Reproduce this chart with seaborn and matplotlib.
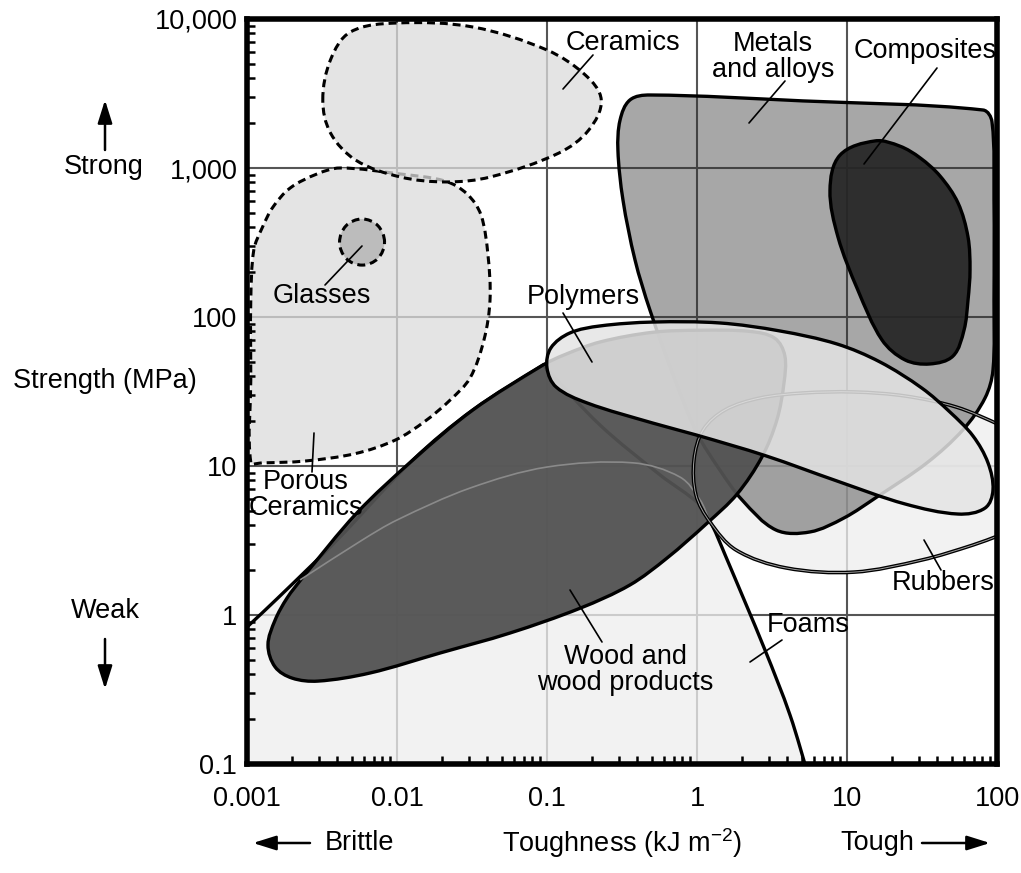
import numpy as np
import matplotlib
matplotlib.use("Agg")
import matplotlib.pyplot as plt
import seaborn as sns
from matplotlib.path import Path
from matplotlib.patches import PathPatch
from matplotlib.colors import to_rgba
from matplotlib.ticker import FixedLocator, FixedFormatter, LogLocator, NullFormatter

# %% axis values

x_ticks = [0.001, 0.01, 0.1, 1, 10, 100]
x_labels = ['0.001', '0.01', '0.1', '1', '10', '100']
y_ticks = [0.1, 1, 10, 100, 1000, 10000]
y_labels = ['0.1', '1', '10', '100', '1,000', '10,000']

# %% outlines: toughness (kJ m-2) and strength (MPa)
# a point listed twice is a sharp corner

ceramics_t = [0.0032, 0.0036, 0.0049, 0.010, 0.032, 0.10, 0.18, 0.23, 0.19, 0.12, 0.042, 0.0215, 0.0105, 0.0053, 0.0036]
ceramics_s = [2860, 5310, 8190, 9400, 8840, 6190, 4210, 2860, 1800, 1260, 871, 806, 871, 1130, 1720]

porous_t = [0.00106, 0.00106, 0.00106, 0.00111, 0.00126, 0.00149, 0.00194, 0.00293, 0.00417, 0.0105, 0.0209, 0.0293,
            0.0363, 0.0404, 0.0417, 0.038, 0.0307, 0.0226, 0.0154, 0.0097, 0.00525, 0.00244, 0.00126]
porous_s = [10.6, 37.8, 130, 282, 395, 547, 734, 912, 1000, 912, 818, 670,
            484, 261, 130, 70.2, 39, 27.7, 20, 14.9, 12.1, 10.8, 10.5]

glasses_t = [0.00826, 0.00746, 0.00585, 0.00458, 0.00414, 0.00458, 0.00585, 0.00746]
glasses_s = [318, 410, 455, 410, 318, 247, 223, 247]

metals_t = [0.307, 0.357, 0.486, 5.09, 80.7, 92.6, 95.5, 95.5, 94, 83.2, 59.3, 34.1,
            15.8, 9.55, 5.67, 3.36, 2.0, 1.42, 1.0, 0.714, 0.486, 0.386, 0.321, 0.297]
metals_s = [2100, 2860, 3090, 2820, 2450, 2040, 610, 130, 44, 28.6, 17.5, 10.5,
            6.19, 4.48, 3.61, 3.72, 5.91, 9.4, 16.6, 37.8, 111, 242, 610, 1320]

composites_t = [15.4, 22.6, 30.7, 41.7, 55, 64.1, 66.1, 64.1, 60.3, 50.9, 35.7, 24.4, 17.1, 11.8, 8.71, 7.7, 8.98]
composites_s = [1520, 1400, 1170, 884, 582, 344, 207, 130, 81.8, 54.7, 48.4, 51.5, 70.2, 152, 344, 711, 1220]

wood_t = [0.00233, 0.00233, 0.00185, 0.00154, 0.00138, 0.00154, 0.0020, 0.00297, 0.0066, 0.0194, 0.0567, 0.166,
          0.357, 0.631, 1.17, 1.85, 2.71, 3.41, 3.80, 3.85, 3.30, 2.26, 1.05, 0.509, 0.226, 0.132,
          0.094, 0.0321, 0.0128, 0.0054]
wood_s = [1.77, 1.77, 1.30, 0.925, 0.629, 0.448, 0.377, 0.36, 0.408, 0.556, 0.757, 1.11,
          1.59, 2.41, 4.14, 6.48, 11.5, 20.4, 36.0, 55.0, 72.0, 80.0, 81.5, 79.0, 68.0, 56.0,
          47.6, 23.8, 11.0, 4.84]

wood_inner_t = [0.00226, 0.00585, 0.010, 0.0307, 0.10, 0.374, 0.77, 1.05, 1.22]
wood_inner_s = [1.72, 3.18, 4.34, 7.11, 9.84, 10.5, 8.43, 5.91, 4.21]

foams_t = [0.00062, 0.001, 0.00158, 0.00398, 0.0128, 0.0321, 0.094, 0.094, 0.226, 0.567, 1.05, 1.26,
           1.54, 2.84, 4.17, 5.67, 7.5, 7.5, 0.00062, 0.00062]
foams_s = [0.53, 0.83, 1.28, 3.18, 11.0, 23.8, 47.6, 47.6, 18.8, 8.71, 5.47, 4.02,
           2.53, 0.582, 0.213, 0.078, 0.036, 0.036, 0.036, 0.036]

polymers_t = [0.1, 0.106, 0.142, 0.226, 0.509, 1.42, 3.57, 8.58, 16.6, 31.6, 48.6, 69.2,
              87.1, 94, 83.2, 55, 24.4, 8.58, 2.88, 1.0, 0.509, 0.185, 0.115]
polymers_s = [45.5, 61.9, 78.1, 87.1, 92.5, 91.2, 80.6, 65.9, 49.9, 33.3, 23, 15.9,
              10.5, 6.9, 5.22, 4.76, 5.56, 7.93, 11.7, 16.1, 19.4, 26.5, 33.9]

rubbers_t = [194, 105, 53.3, 24.4, 11.1, 5.09, 2.63, 1.54, 1.1, 0.955, 0.985, 1.22,
             1.82, 3.92, 11.1, 31.6, 69.2, 105, 194]
rubbers_s = [13.8, 18.8, 24.9, 29.5, 31.4, 30.9, 28.6, 23.8, 17.5, 11.0, 6.38, 4.21,
             2.73, 2.07, 1.94, 2.34, 2.95, 3.44, 4.34]


def outline(t, s, closed=True):
    # smooth outline through the points, built in log space as cubic bezier segments
    p = np.column_stack([np.log10(t), np.log10(s)])
    n = len(p)

    def unit(v):
        length = np.hypot(*v)
        return v / length if length > 0 else v * 0

    verts, codes = [p[0]], [Path.MOVETO]
    for i in range(n if closed else n - 1):
        a = p[i - 1] if (closed or i > 0) else p[i]
        b, c = p[i], p[(i + 1) % n]
        d = p[(i + 2) % n] if (closed or i + 2 < n) else c
        seg = np.hypot(*(c - b))
        verts += [b + unit(c - a) * seg / 3, c - unit(d - b) * seg / 3, c]
        codes += [Path.CURVE4] * 3
    if closed:
        verts.append(p[0])
        codes.append(Path.CLOSEPOLY)
    return Path(10 ** np.array(verts), codes)


W, H = 1021, 873


def fxy(px, py):
    return (px / W, 1 - py / H)


sns.set_theme(style='white')
plt.rcParams['font.family'] = ['Liberation Sans', 'DejaVu Sans']
plt.rcParams['text.color'] = 'black'
plt.rcParams['mathtext.fontset'] = 'custom'
plt.rcParams['mathtext.rm'] = 'Liberation Sans'
plt.rcParams['mathtext.default'] = 'rm'

fig = plt.figure(figsize=(W / 100, H / 100), dpi=100)
ax = fig.add_axes([247 / W, 1 - 764 / H, 750 / W, 745 / H])
ax.set_xscale('log')
ax.set_yscale('log')
ax.set_xlim(x_ticks[0], x_ticks[-1])
ax.set_ylim(y_ticks[0], y_ticks[-1])

for v in x_ticks[1:-1]:
    ax.axvline(v, color='#555555', lw=1.5, zorder=0.5)
for v in y_ticks[1:-1]:
    ax.axhline(v, color='#555555', lw=1.5, zorder=0.5)

dashed = (0, (2.6, 1.6))


def blob(t, s, fc, alpha, z, ls='-', lw=2.4, ec='black'):
    ax.add_patch(PathPatch(outline(t, s), facecolor=to_rgba(fc, alpha), edgecolor=ec,
                           lw=lw, linestyle=ls, zorder=z))


blob(foams_t, foams_s, '#efefef', 0.77, 1.0)
ax.add_patch(PathPatch(outline(rubbers_t, rubbers_s), facecolor=to_rgba('#efefef', 0.77),
                       edgecolor='none', zorder=1.2))
blob(porous_t, porous_s, '#dcdcdc', 0.76, 1.5, ls=dashed, lw=2.2)
blob(ceramics_t, ceramics_s, '#dcdcdc', 0.76, 1.6, ls=dashed, lw=2.2)
blob(glasses_t, glasses_s, '#b8b8b8', 0.9, 1.7, ls=dashed, lw=2.2)
blob(metals_t, metals_s, '#2b2b2b', 0.41, 2.0)
blob(composites_t, composites_s, '#252525', 0.93, 2.2)
blob(wood_t, wood_s, '#525252', 0.95, 3.0)
ax.add_patch(PathPatch(outline(wood_inner_t, wood_inner_s, closed=False), fill=False,
                       edgecolor='#8a8a8a', lw=1.2, zorder=3.1))
ax.add_patch(PathPatch(outline(rubbers_t, rubbers_s), fill=False, edgecolor='black', lw=2.6, zorder=3.5))
ax.add_patch(PathPatch(outline(rubbers_t, rubbers_s), fill=False, edgecolor='#a0a0a0', lw=0.7, zorder=3.6))
blob(polymers_t, polymers_s, '#e4e4e4', 0.85, 4.0)

# axes, ticks
ax.set_axisbelow(False)
ax.xaxis.set_major_locator(FixedLocator(x_ticks))
ax.xaxis.set_major_formatter(FixedFormatter(x_labels))
ax.yaxis.set_major_locator(FixedLocator(y_ticks))
ax.yaxis.set_major_formatter(FixedFormatter(y_labels))
ax.xaxis.set_minor_locator(LogLocator(base=10, subs=np.arange(2, 10), numticks=20))
ax.yaxis.set_minor_locator(LogLocator(base=10, subs=np.arange(2, 10), numticks=20))
ax.xaxis.set_minor_formatter(NullFormatter())
ax.yaxis.set_minor_formatter(NullFormatter())
ax.tick_params(which='major', length=0, labelsize=19.5, colors='black')
ax.tick_params(axis='x', which='major', pad=16)
ax.tick_params(axis='y', which='major', pad=7)
ax.tick_params(which='minor', direction='in', length=6, width=1.8, color='black',
               left=True, bottom=True, top=False, right=False)
for sp in ax.spines.values():
    sp.set_linewidth(4)
    sp.set_color('black')
    sp.set_zorder(10)
ax.xaxis.set_zorder(11)
ax.yaxis.set_zorder(11)

fs = 19.5


def label(text, px, py, **kw):
    ax.annotate(text, xy=fxy(px, py), xycoords='figure fraction', ha='center', va='center',
                fontsize=fs, color='black', zorder=30, linespacing=1.0, **kw)


def leader(p0, p1, lw=1.2):
    ax.annotate('', xy=fxy(*p1), xytext=fxy(*p0), xycoords='figure fraction', textcoords='figure fraction',
                arrowprops=dict(arrowstyle='-', lw=lw, color='black', shrinkA=0, shrinkB=0), zorder=30)


def arrow(p0, p1):
    ax.annotate('', xy=fxy(*p1), xytext=fxy(*p0), xycoords='figure fraction', textcoords='figure fraction',
                arrowprops=dict(arrowstyle='-|>,head_length=0.7,head_width=0.22', lw=1.8, color='black',
                                shrinkA=0, shrinkB=0, mutation_scale=20), zorder=30)


# material labels
label('Ceramics', 623, 43)
leader((593, 55), (563, 89))
label('Metals\nand alloys', 773, 57)
leader((785, 81), (749, 123))
label('Composites', 925, 51)
leader((937, 68), (864, 164))
label('Glasses', 322, 296)
leader((325, 285), (362, 246))
label('Porous\nCeramics', 306, 495)
leader((314, 433), (312, 472))
label('Polymers', 583, 297)
leader((563, 313), (592, 362))
label('Rubbers', 943, 583)
leader((924, 540), (941, 570))
label('Foams', 808, 625)
leader((782, 640), (750, 662))
label('Wood and\nwood products', 625, 670)
leader((570, 590), (602, 642))

# axis titles
label('Strength (MPa)', 105, 381)
label('Strong', 104, 167)
arrow((105, 150), (105, 100))
label('Weak', 105, 611)
arrow((105, 639), (105, 689))
label('Toughness (kJ m$^{-2}$)', 622, 843)
label('Brittle', 359, 843)
arrow((310, 843), (253, 843))
label('Tough', 877, 843)
arrow((922, 843), (990, 843))

fig.savefig('out.png', dpi=100)
